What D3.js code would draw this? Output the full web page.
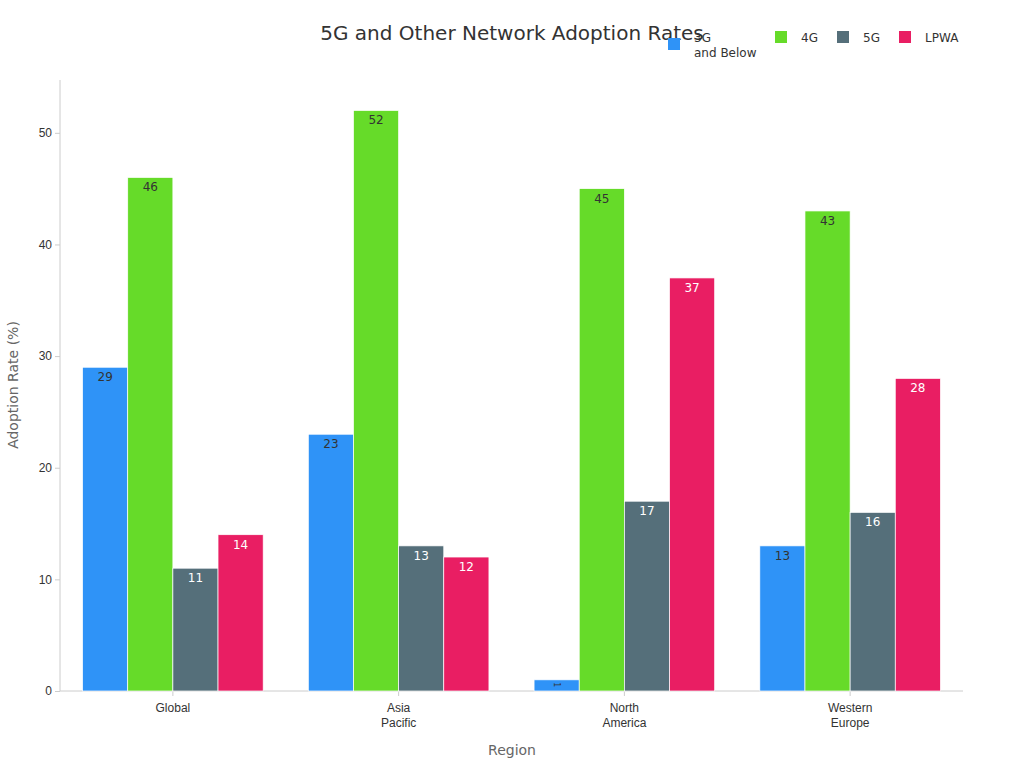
<!DOCTYPE html>
<html><head><meta charset="utf-8">
<script src="https://cdn.jsdelivr.net/npm/d3@7"></script>
<style>body{margin:0;background:#fff;font-family:"DejaVu Sans",sans-serif}</style>
</head><body><svg id="c" width="1024" height="768"></svg>
<script>
var regions = [["Global"], ["Asia", "Pacific"], ["North", "America"], ["Western", "Europe"]];
var series = ["3G and Below", "4G", "5G", "LPWA"];
var colors = ["#2f93f7", "#66db29", "#556f7a", "#e91e63"];
var labelColors = ["#333", "#333", "#fff", "#fff"];
var values = [
	[29, 46, 11, 14],
	[23, 52, 13, 12],
	[1, 45, 17, 37],
	[13, 43, 16, 28]
];
var yTicks = [0, 10, 20, 30, 40, 50];

var svg = d3.select("#c");
var x = d3.scaleBand().domain(d3.range(regions.length)).range([60, 963]).paddingInner(0.2).paddingOuter(0.1);
var xs = d3.scaleBand().domain(d3.range(series.length)).range([0, x.bandwidth()]);
var y = d3.scaleLinear().domain([0, 55]).range([691, 77]);

svg.append("text").attr("x", 512).attr("y", 40).attr("text-anchor", "middle")
	.attr("font-size", 20).attr("fill", "#333").text("5G and Other Network Adoption Rates");

// axes
var ya = svg.append("g").attr("transform", "translate(60,0)")
	.call(d3.axisLeft(y).tickValues(yTicks).tickSize(5));
ya.selectAll("text").attr("font-size", 12).attr("fill", "#333");
ya.selectAll("line,path").attr("stroke", "#ccc");
ya.select(".domain").attr("d", "M0,80V691");

var xa = svg.append("g").attr("transform", "translate(0,691)")
	.call(d3.axisBottom(x).tickSize(5).tickFormat(""));
xa.selectAll("line,path").attr("stroke", "#ccc");
xa.select(".domain").attr("d", "M60,0H963");
xa.selectAll(".tick").each(function(d){
	var t = d3.select(this).append("text").attr("fill", "#333").attr("font-size", 12).attr("text-anchor", "middle");
	regions[d].forEach(function(s, i){
		t.append("tspan").attr("x", 0).attr("y", 21 + i * 15).text(s);
	});
});

svg.append("text").attr("x", 512).attr("y", 755).attr("text-anchor", "middle")
	.attr("font-size", 14).attr("fill", "#666").text("Region");
svg.append("text").attr("transform", "translate(18,385) rotate(-90)").attr("text-anchor", "middle")
	.attr("font-size", 14).attr("fill", "#666").text("Adoption Rate (%)");

// bars
for (var i = 0; i < regions.length; i++){
	for (var j = 0; j < series.length; j++){
		var v = values[i][j];
		var bx = x(i) + xs(j);
		svg.append("rect").attr("x", bx).attr("y", y(v)).attr("width", xs.bandwidth())
			.attr("height", y(0) - y(v)).attr("fill", colors[j]).attr("stroke", "#fff").attr("stroke-width", 0.7);
		var cx = bx + xs.bandwidth() / 2;
		if (v < 3){
			svg.append("text").attr("transform", "translate(" + cx + "," + (y(v) + 5) + ") rotate(90)")
				.attr("text-anchor", "middle").attr("dy", "0.35em").attr("font-size", 8)
				.attr("fill", labelColors[j]).text(v);
		} else {
			svg.append("text").attr("x", cx).attr("y", y(v) + 14).attr("text-anchor", "middle")
				.attr("font-size", 12).attr("fill", labelColors[j]).text(v);
		}
	}
}

// legend
var lx = [668, 775, 837, 899];
series.forEach(function(s, j){
	svg.append("rect").attr("x", lx[j]).attr("y", j == 0 ? 38 : 31).attr("width", 12).attr("height", 12).attr("fill", colors[j]);
	var t = svg.append("text").attr("font-size", 12).attr("fill", "#333");
	if (j == 0){
		t.append("tspan").attr("x", lx[j] + 26).attr("y", 42).text("3G");
		t.append("tspan").attr("x", lx[j] + 26).attr("y", 57).text("and Below");
	} else {
		t.attr("x", lx[j] + 26).attr("y", 42).text(s);
	}
});
</script></body></html>
